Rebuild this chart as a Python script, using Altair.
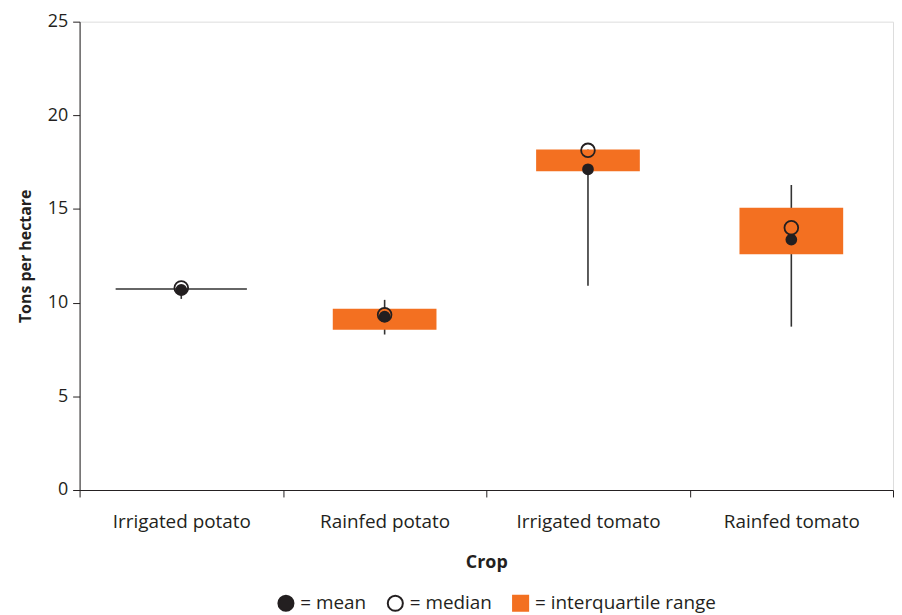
import altair as alt
import pandas as pd

crops = ["Irrigated potato", "Rainfed potato", "Irrigated tomato", "Rainfed tomato"]
q1 = [10.73, 8.56, 17.02, 12.58]
q3 = [10.73, 9.67, 18.18, 15.06]
whisker_low = [10.2, 8.3, 10.9, 8.72]
whisker_high = [10.8, 10.15, 18.18, 16.28]
means = [10.68, 9.25, 17.12, 13.37]
medians = [10.78, 9.36, 18.13, 14.0]
y_ticks = [0, 5, 10, 15, 20, 25]
stat_labels = ["= mean", "= median", "= interquartile range"]

FONT = "Open Sans"
ORANGE = "#F37021"
DARK = "#231F20"

box_df = pd.DataFrame({
    "crop": crops, "q1": q1, "q3": q3,
    "lo": whisker_low, "hi": whisker_high,
    "stat": [stat_labels[2]] * len(crops),
})
mean_df = pd.DataFrame({"crop": crops, "value": means,
                        "stat": [stat_labels[0]] * len(crops)})
median_df = pd.DataFrame({"crop": crops, "value": medians,
                          "stat": [stat_labels[1]] * len(crops)})

xenc = alt.X("crop:N", sort=crops, title="Crop",
             scale=alt.Scale(paddingInner=0, paddingOuter=0),
             axis=alt.Axis(labelAngle=0, tickBand="extent", labelPadding=16,
                           titlePadding=22, domainColor=DARK, tickColor=DARK,
                           tickSize=7, labelFontSize=19, titleFontSize=18,
                           labelColor=DARK, titleColor=DARK, titleFontWeight="bold",
                           labelFont=FONT, titleFont=FONT, labelLimit=300))
yscale = alt.Scale(domain=[0, 25], nice=False)
yaxis = alt.Axis(values=y_ticks, grid=False, tickSize=7, labelPadding=5,
                 titlePadding=14, domainColor=DARK, tickColor=DARK,
                 labelFontSize=18, titleFontSize=16, labelColor=DARK,
                 titleColor=DARK, titleFontWeight="bold", labelFont=FONT,
                 titleFont=FONT)

fill_scale = alt.Scale(domain=stat_labels, range=[DARK, "transparent", ORANGE])
stroke_scale = alt.Scale(domain=stat_labels, range=[DARK, DARK, ORANGE])
shape_scale = alt.Scale(domain=stat_labels, range=["circle", "circle", "square"])
legend = alt.Legend(title=None, orient="none", legendX=198, legendY=575,
                    direction="horizontal", symbolSize=230, symbolStrokeWidth=2,
                    labelFontSize=19, labelFont=FONT, labelColor=DARK,
                    columnPadding=16, labelOffset=5, labelLimit=400)

base = alt.Chart(box_df)

whiskers = base.mark_rule(color="#333333", strokeWidth=1.6).encode(
    x=xenc,
    y=alt.Y("lo:Q", scale=yscale, axis=yaxis, title="Tons per hectare"),
    y2="hi:Q",
)

boxes = base.transform_filter("datum.q3 > datum.q1").mark_bar(
    width=alt.RelativeBandSize(0.51), strokeWidth=0).encode(
    x=alt.X("crop:N", sort=crops),
    y="q1:Q",
    y2="q3:Q",
    fill=alt.Fill("stat:N", scale=fill_scale, legend=legend),
)

flat = base.transform_filter("datum.q3 <= datum.q1").mark_tick(
    color="#333333", thickness=1.6, size=132, opacity=1).encode(
    x=alt.X("crop:N", sort=crops),
    y="q1:Q",
)


def stat_points(df, size):
    return alt.Chart(df).mark_point(size=size, strokeWidth=1.8, opacity=1).encode(
        x=alt.X("crop:N", sort=crops),
        y="value:Q",
        fill=alt.Fill("stat:N", scale=fill_scale, legend=legend),
        stroke=alt.Stroke("stat:N", scale=stroke_scale, legend=legend),
        shape=alt.Shape("stat:N", scale=shape_scale, legend=legend),
    )


mean_pts = stat_points(mean_df, 100)
median_pts = stat_points(median_df, 190)

chart = alt.layer(whiskers, boxes, flat, mean_pts, median_pts).properties(
    width=818, height=471,
    padding={"left": 9, "top": 3, "right": 0, "bottom": 2},
).configure_view(stroke=None).configure(font=FONT)

chart.save("out.html", embed_options={"renderer": "svg", "actions": False})
